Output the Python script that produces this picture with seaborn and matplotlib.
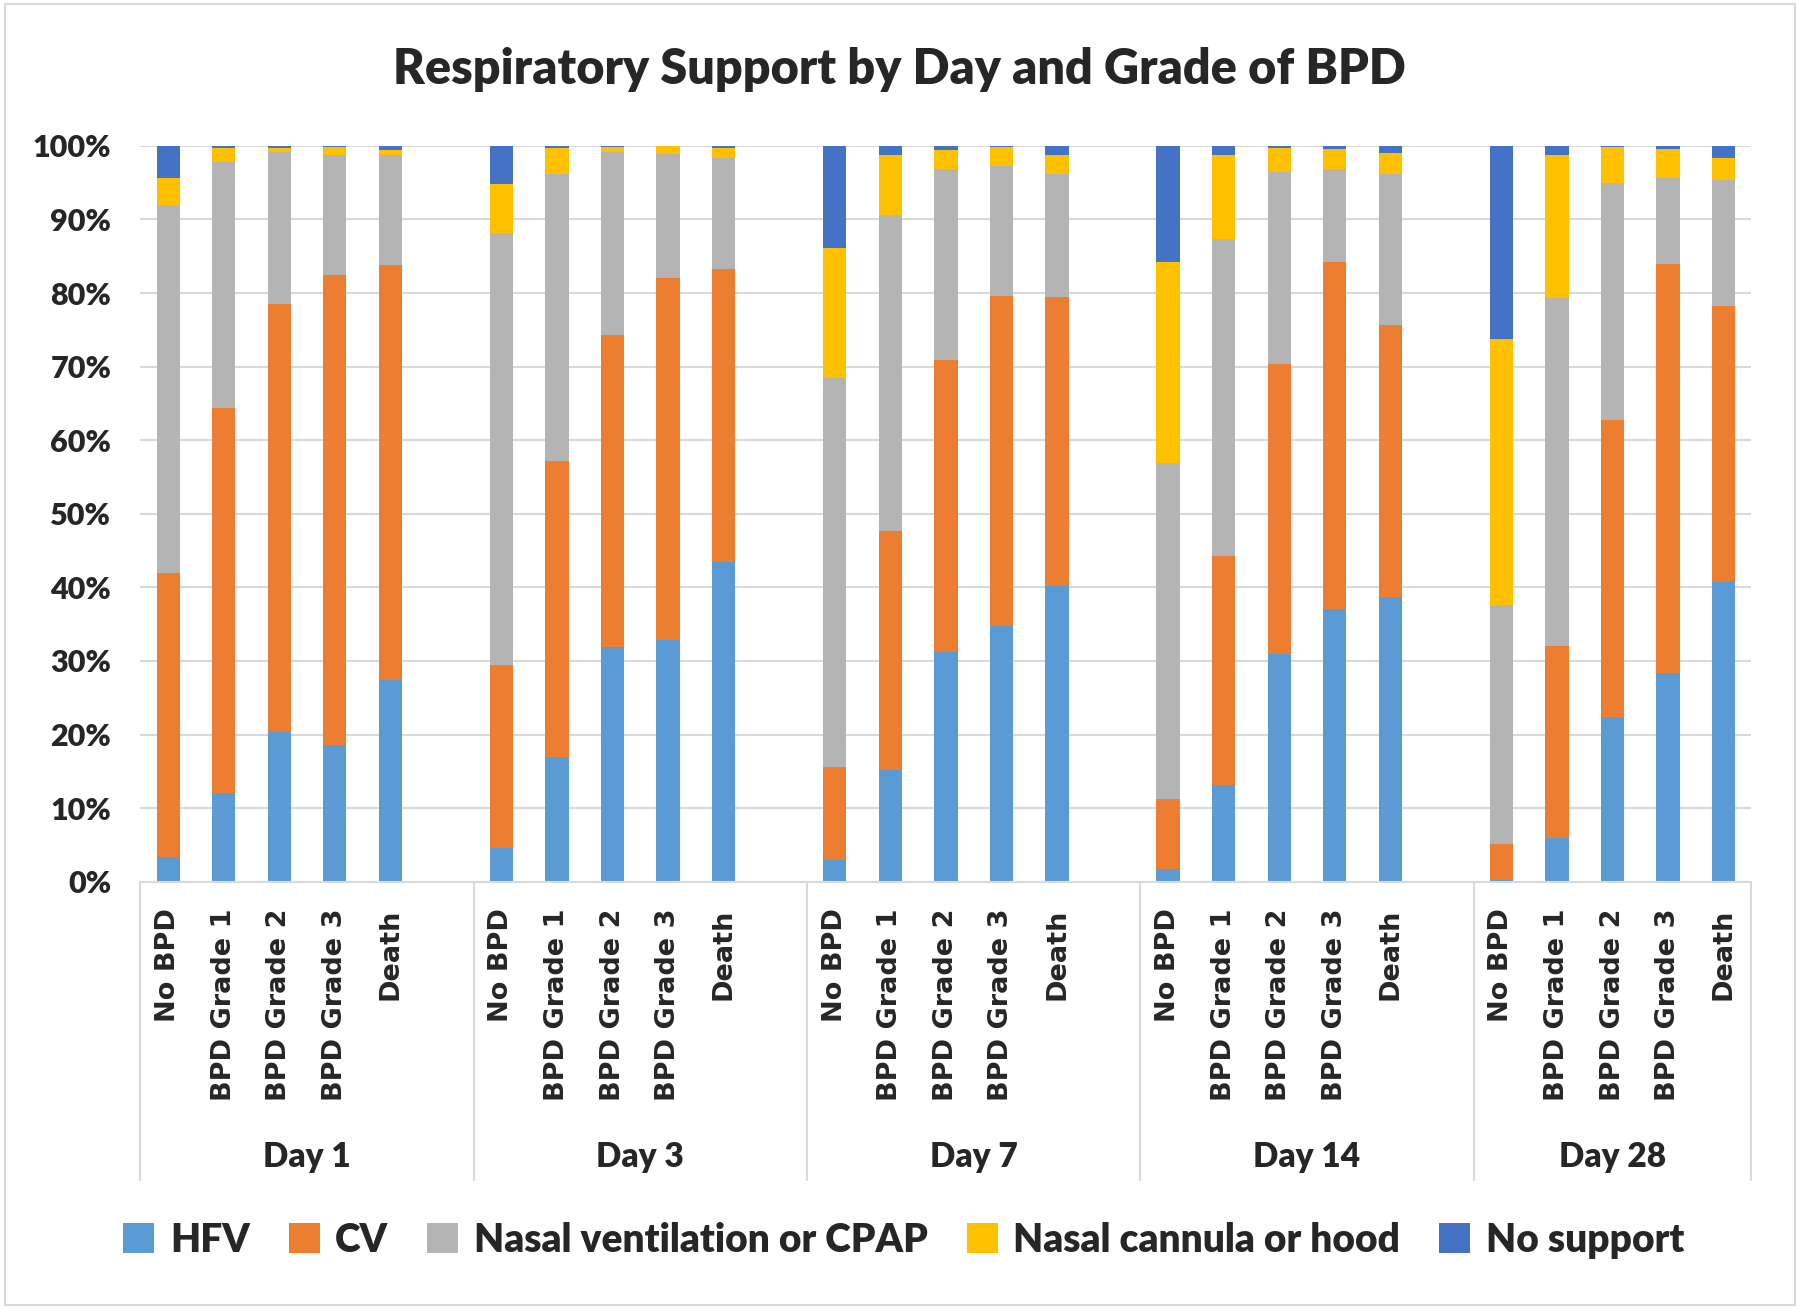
import matplotlib
matplotlib.use("Agg")
import matplotlib.pyplot as plt
import matplotlib.transforms as mtransforms
from matplotlib.patches import Patch, Rectangle
from matplotlib.lines import Line2D
from matplotlib.ticker import PercentFormatter
import numpy as np
import pandas as pd
import seaborn as sns

# data (segment share in %)
days = ["Day 1", "Day 3", "Day 7", "Day 14", "Day 28"]
grades = ["No BPD", "BPD Grade 1", "BPD Grade 2", "BPD Grade 3", "Death"]
series = ["HFV", "CV", "Nasal ventilation or CPAP", "Nasal cannula or hood", "No support"]
colors = ["#5B9BD5", "#ED7D31", "#B4B4B4", "#FFC000", "#4472C4"]

# order inside each list: day 1 grades, day 3 grades, ... day 28 grades
hfv = [3.4, 12.0, 20.3, 18.6, 27.4,
       4.6, 16.9, 31.9, 32.8, 43.5,
       2.9, 15.2, 31.2, 34.8, 40.2,
       1.7, 13.1, 31.0, 37.0, 38.7,
       0.3, 5.9, 22.4, 28.3, 40.7]
cv = [38.6, 52.4, 58.2, 63.9, 56.4,
      24.8, 40.3, 42.4, 49.3, 39.8,
      12.7, 32.5, 39.7, 44.8, 39.2,
      9.5, 31.2, 39.3, 47.2, 37.0,
      4.8, 26.2, 40.4, 55.6, 37.5]
nasal_vent = [50.0, 33.4, 20.6, 16.2, 14.9,
              58.7, 39.0, 24.8, 16.8, 15.1,
              52.8, 42.9, 26.0, 17.6, 16.8,
              45.7, 43.0, 26.1, 12.7, 20.5,
              32.5, 47.2, 32.1, 11.7, 17.2]
nasal_cannula = [3.6, 1.9, 0.6, 1.1, 0.7,
                 6.7, 3.5, 0.8, 1.1, 1.3,
                 17.7, 8.1, 2.6, 2.6, 2.5,
                 27.3, 11.4, 3.3, 2.7, 2.8,
                 36.1, 19.4, 5.0, 4.0, 3.0]
no_support = [4.4, 0.3, 0.3, 0.2, 0.6,
              5.2, 0.3, 0.1, 0.0, 0.3,
              13.9, 1.3, 0.5, 0.2, 1.3,
              15.8, 1.3, 0.3, 0.4, 1.0,
              26.3, 1.3, 0.1, 0.4, 1.6]

# long table with cumulative tops
keys = [f"{d}|{g}" for d in days for g in grades]
seg = np.array([hfv, cv, nasal_vent, nasal_cannula, no_support]) / 100.0
seg = seg / seg.sum(axis=0)
cum = np.cumsum(seg, axis=0)
rows = []
for si, s in enumerate(series):
    for ki, k in enumerate(keys):
        rows.append({"slot": k, "series": s, "top": cum[si, ki]})
df = pd.DataFrame(rows)

# category slots with a blank slot between day groups
order = []
ticklabels = []
for i, d in enumerate(days):
    for g in grades:
        order.append(f"{d}|{g}")
        ticklabels.append(g)
    if i < len(days) - 1:
        order.append(f"gap{i}")
        ticklabels.append("")

sns.set_style("white")
plt.rcParams["font.family"] = ["Lato", "DejaVu Sans"]
W = "heavy"

fig = plt.figure(figsize=(18, 13.09), dpi=100)
ax = fig.add_axes([0.078, 0.3264, 0.895, 0.5622])

# draw from the top layer down so that each layer covers the one above
for si in range(len(series) - 1, -1, -1):
    sns.barplot(data=df[df["series"] == series[si]], x="slot", y="top",
                order=order, color=colors[si], width=0.42, ax=ax,
                saturation=1, linewidth=0, errorbar=None)

ax.set_xlim(-0.5, len(order) - 0.5)
ax.set_ylim(0, 1)
ax.set_yticks(np.linspace(0, 1, 11))
ax.yaxis.set_major_formatter(PercentFormatter(1.0, decimals=0))
ax.grid(axis="y", color="#D9D9D9", linewidth=1.5)
ax.set_axisbelow(True)
for sp in ["top", "right", "left"]:
    ax.spines[sp].set_visible(False)
ax.spines["bottom"].set_color("#D9D9D9")
ax.spines["bottom"].set_linewidth(1.5)
ax.set_xlabel("")
ax.set_ylabel("")

ax.set_xticks(range(len(order)))
ax.set_xticklabels(ticklabels, rotation=90, fontsize=19.5, fontweight="bold",
                   family="DejaVu Sans")
ax.tick_params(axis="x", length=0, pad=19)
ax.tick_params(axis="y", length=0, pad=21, labelsize=22)
for t in ax.get_yticklabels():
    t.set_fontweight(W)

# group labels and separators
trans = mtransforms.blended_transform_factory(ax.transData, fig.transFigure)
edges = [-0.5, 5.5, 11.5, 17.5, 23.5, 28.5]
for x in edges:
    ax.add_line(Line2D([x, x], [0.3264, 0.0985], transform=trans,
                       color="#D9D9D9", linewidth=1.5, clip_on=False))
for i, d in enumerate(days):
    cx = (edges[i] + edges[i + 1]) / 2
    fig.text(cx, 0.116, d, transform=trans, ha="center", va="center",
             fontsize=24, fontweight=W)

fig.text(0.4995, 0.947, "Respiratory Support by Day and Grade of BPD",
         ha="center", va="center", fontsize=35, fontweight=W)

handles = [Patch(facecolor=c, edgecolor="none", label=s) for s, c in zip(series, colors)]
fig.legend(handles=handles, loc="center", bbox_to_anchor=(0.502, 0.0527), ncol=5,
           frameon=False, prop={"weight": W, "size": 28},
           handlelength=0.8, handleheight=0.8, handletextpad=0.4, columnspacing=1.0)

fig.patches.append(Rectangle((0.003, 0.003), 0.994, 0.994, transform=fig.transFigure,
                             fill=False, edgecolor="#D9D9D9", linewidth=1.5))

fig.savefig("out.png", dpi=100, facecolor="white")
